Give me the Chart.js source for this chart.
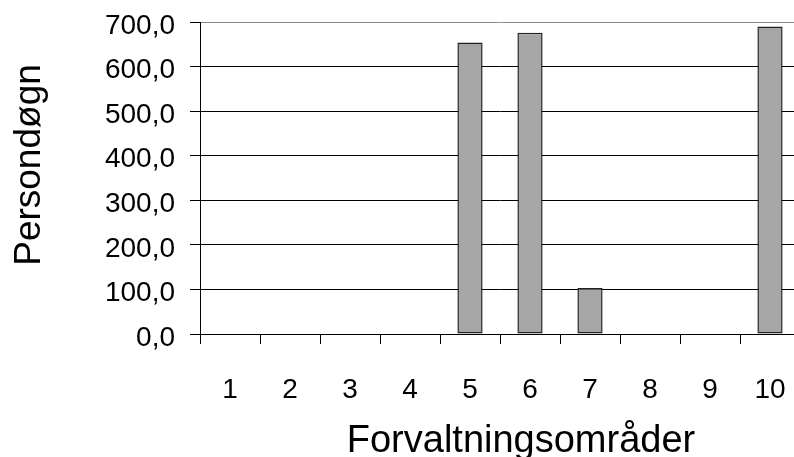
<!DOCTYPE html>
<html>
<head>
<meta charset="utf-8">
<script src="https://cdn.jsdelivr.net/npm/chart.js@4/dist/chart.umd.min.js"></script>
<style>
  html, body { margin: 0; padding: 0; background: #fff; overflow: hidden; }
  #wrap { width: 794px; height: 457px; overflow: hidden; position: relative; }
  canvas { display: block; }
</style>
</head>
<body>
<div id="wrap"><canvas id="c" width="820" height="457"></canvas></div>
<script>
// Administrative areas on the x axis
const categories = ['1', '2', '3', '4', '5', '6', '7', '8', '9', '10'];
// Person-days per area (empty areas have no bar)
const persondays = [null, null, null, null, 654, 676, 103, null, null, 690];
// Value-axis tick labels, Danish decimal comma
const yTickLabels = ['0,0', '100,0', '200,0', '300,0', '400,0', '500,0', '600,0', '700,0'];
const xTitle = 'Forvaltningsområder';
const yTitle = 'Persondøgn';

const FONT = "'Liberation Sans', Arial, sans-serif";

// Axis titles placed freely around the plot
const axisTitles = {
  id: 'axisTitles',
  afterDraw(chart) {
    const ctx = chart.ctx;
    ctx.save();
    ctx.fillStyle = '#000';
    ctx.textAlign = 'center';
    ctx.textBaseline = 'alphabetic';
    ctx.font = "38px " + FONT;
    ctx.fillText(xTitle, 521, 452);
    ctx.font = "37px " + FONT;
    ctx.translate(40, 165);
    ctx.rotate(-Math.PI / 2);
    ctx.fillText(yTitle, 0, 0);
    ctx.restore();
  }
};

new Chart(document.getElementById('c'), {
  type: 'bar',
  data: {
    labels: categories,
    datasets: [{
      data: persondays,
      backgroundColor: '#A6A6A6',
      borderColor: '#222222',
      borderWidth: 1.5,
      borderSkipped: false,
      barPercentage: 0.42,
      categoryPercentage: 1.0
    }]
  },
  options: {
    responsive: false,
    animation: false,
    layout: { padding: { left: 0, top: 22, right: 20, bottom: 0 } },
    plugins: {
      legend: { display: false },
      tooltip: { enabled: false },
      title: { display: false }
    },
    scales: {
      x: {
        type: 'category',
        offset: true,
        afterFit(s) { s.height = 123; s.paddingLeft = 0; s.paddingRight = 0; },
        grid: {
          offset: true,
          drawOnChartArea: false,
          drawTicks: true,
          tickLength: 10,
          color: '#000',
          tickColor: '#000',
          lineWidth: 1
        },
        border: { display: true, color: '#000', width: 1 },
        ticks: {
          color: '#000',
          font: { family: FONT, size: 28 },
          padding: 29,
          maxRotation: 0,
          autoSkip: false
        }
      },
      y: {
        min: 0,
        max: 700,
        afterFit(s) { s.width = 200; s.paddingTop = 0; s.paddingBottom = 0; },
        grid: {
          color: (c) => (c.tick && c.tick.value === 700 ? '#8c8c8c' : '#000'),
          tickColor: '#000',
          tickLength: 10,
          lineWidth: 1
        },
        border: { display: true, color: '#000', width: 1 },
        ticks: {
          stepSize: 100,
          color: '#000',
          font: { family: FONT, size: 28 },
          padding: 15,
          labelOffset: 4,
          callback: (v, i) => yTickLabels[i]
        }
      }
    }
  },
  plugins: [axisTitles]
});
</script>
</body>
</html>
